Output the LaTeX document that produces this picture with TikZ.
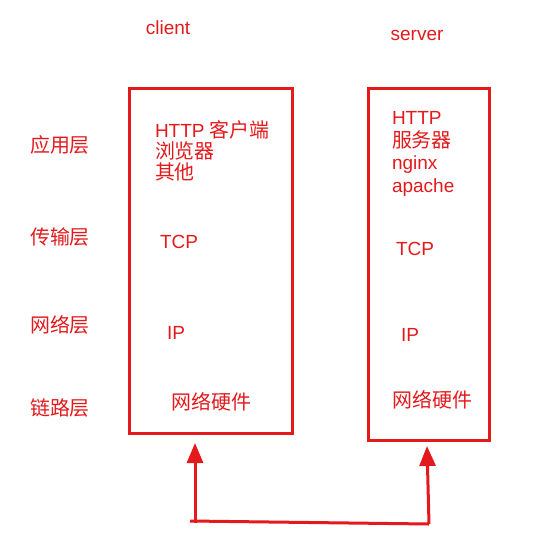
\documentclass[tikz,border=0pt]{standalone}
\usepackage{fontspec}
\setmainfont{Liberation Sans}
\newfontfamily\cjk[Scale=1.05]{Noto Sans CJK SC}
\usetikzlibrary{arrows.meta}
\definecolor{pen}{RGB}{227,25,28}
\begin{document}
\begin{tikzpicture}[x=1pt, y=-1pt, line width=3pt, draw=pen,
    every node/.style={text=pen, inner sep=0pt, font=\fontsize{19}{21}\selectfont},
    txt/.style={anchor=west, align=left},
    box/.style={draw=pen, line width=3pt, minimum width=#1, rectangle}]
  \useasboundingbox (0,0) rectangle (560,542);
  % layer names
  \node at (60,145) (app) {\cjk 应用层};
  \node at (60,237) (trans) {\cjk 传输层};
  \node at (60,325) (net) {\cjk 网络层};
  \node at (60,408) (link) {\cjk 链路层};
  % hosts
  \node at (168,28) (client) {client};
  \node at (417,35) (server) {server};
  \node[box=163pt, minimum height=345pt] at (211,260.5) (cbox) {};
  \node[box=121pt, minimum height=352pt] at (428.5,264) (sbox) {};
  % client stack
  \node[txt] at (153.5,151) (capp) {HTTP {\cjk 客户端}\\{\cjk 浏览器}\\{\cjk 其他}};
  \node[txt] at (158.5,242) (ctcp) {TCP};
  \node[txt] at (165.5,333) (cip) {IP};
  \node[txt] at (170,402) (chw) {\cjk 网络硬件};
  % server stack
  \node[txt, font=\fontsize{19}{22.5}\selectfont] at (390.5,154) (sapp) {HTTP\\{\cjk 服务器}\\nginx\\apache};
  \node[txt] at (394.5,249) (stcp) {TCP};
  \node[txt] at (399.5,335) (sip) {IP};
  \node[txt] at (391,400) (shw) {\cjk 网络硬件};
  % link between the two
  \coordinate (cfoot) at (195,523);
  \coordinate (sfoot) at (429,524);
  \coordinate (ctip) at (195,443);
  \coordinate (stip) at (427,446);
  \draw[pen] (cfoot) ++(-5,-2) -- (sfoot);
  \draw[pen, -{Triangle[length=20pt, width=16pt]}] (cfoot) -- (ctip);
  \draw[pen, -{Triangle[length=20pt, width=16pt]}] (sfoot) -- (stip);
\end{tikzpicture}
\end{document}
